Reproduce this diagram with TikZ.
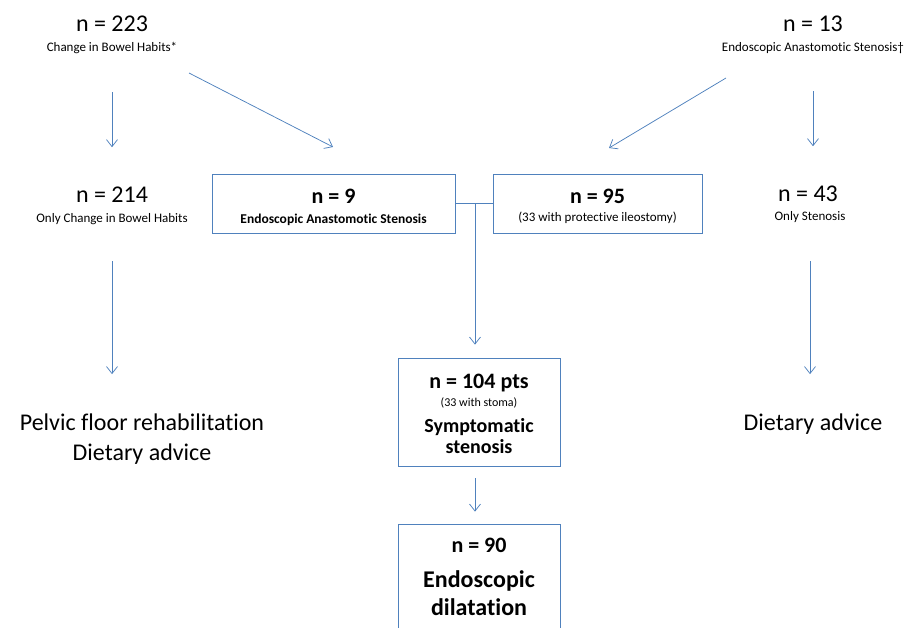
\documentclass[tikz,border=0pt]{standalone}
\usepackage{fontspec}
\setmainfont{Carlito}[Ligatures=NoCommon]
\usetikzlibrary{arrows.meta}
\definecolor{ln}{RGB}{79,129,189}
\tikzset{bx/.style = {draw=ln, line width=0.75pt, inner sep=0pt},
         lg/.style = {inner sep=0pt, anchor=base, font=\fontsize{24}{28}\selectfont},
         sm/.style = {inner sep=0pt, anchor=base, font=\fontsize{13}{15}\selectfont},
         bn/.style = {inner sep=0pt, anchor=base, font=\fontsize{22}{26}\selectfont\bfseries},
         bt/.style = {inner sep=0pt, anchor=base, font=\fontsize{20}{24}\selectfont\bfseries},
         ar/.style = {->, draw=ln, line width=0.75pt}}

\begin{document}
\begin{tikzpicture}[x=1pt, y=-1pt, >={Straight Barb[length=7pt,width=11pt]}]
    \useasboundingbox (0,0) rectangle (913,628);
    \clip (0,0) rectangle (913,628);
    % left column
    \node[lg] (n223) at (112,32) {n = 223};
    \node[sm] (cbh) at (112,52) {Change in Bowel Habits*};
    \node[lg] (n214) at (112,203) {n = 214};
    \node[sm] (ocbh) at (112,223) {Only Change in Bowel Habits};
    \node[lg] (pfr) at (142,430) {Pelvic floor rehabilitation};
    \node[lg] (da1) at (142,460) {Dietary advice};
    % right column
    \node[lg] (n13) at (813,32) {n = 13};
    \node[sm] (eas) at (813,52) {Endoscopic Anastomotic Stenosis†};
    \node[lg] (n43) at (808,202) {n = 43};
    \node[sm] (ost) at (810,221) {Only Stenosis};
    \node[lg] (da2) at (813,430) {Dietary advice};
    % boxes
    \node[bx, minimum width=243pt, minimum height=59pt] (b9) at (333.5,203.5) {};
    \node[bn] (b9a) at (333.5,204) {n = 9};
    \node[sm, font=\fontsize{13.5}{16}\selectfont\bfseries] (b9b) at (333.5,224) {Endoscopic Anastomotic Stenosis};
    \node[bx, minimum width=209pt, minimum height=59pt] (b95) at (597.5,203.5) {};
    \node[bn] (b95a) at (597.5,204) {n = 95};
    \node[sm] (b95b) at (597.5,222) {(33 with protective ileostomy)};
    \node[bx, minimum width=162pt, minimum height=108pt] (b104) at (479,412) {};
    \node[bn] (b104a) at (479,388) {n = 104 pts};
    \node[sm, font=\fontsize{12}{14}\selectfont] (b104b) at (479,406) {(33 with stoma)};
    \node[bt] (b104c) at (479,432) {Symptomatic};
    \node[bt] (b104d) at (479,453) {stenosis};
    \node[bx, minimum width=162pt, minimum height=140pt] (b90) at (479,594) {};
    \node[bn] (b90a) at (479,552) {n = 90};
    \node[bt, font=\fontsize{24}{28}\selectfont\bfseries] (b90b) at (479,587) {Endoscopic};
    \node[bt, font=\fontsize{24}{28}\selectfont\bfseries] (b90c) at (479,615) {dilatation};
    % connectors
    \coordinate (ls) at (189,73);
    \coordinate (le) at (333,147);
    \coordinate (rs) at (726,78);
    \coordinate (re) at (609,148);
    \coordinate (jn) at (475,203.5);
    \draw[ar, shorten <=38pt, shorten >=40pt] (cbh.south) -- (n214.north);
    \draw[ar] (ls) -- (le);
    \draw[ar] (rs) -- (re);
    \draw[ar, shorten <=37pt, shorten >=40pt] (eas.south) -- (eas.south |- n43.north);
    \draw[ar, shorten <=36pt, shorten >=39pt] (ocbh.south) -- (pfr.north -| ocbh.south);
    \draw[ar, shorten <=38pt, shorten >=39pt] (ost.south) -- (ost.south |- da2.north);
    \draw[draw=ln, line width=0.75pt] (b9.east) -- (b95.west);
    \draw[ar, shorten >=13pt] (jn) -- (jn |- b104.north);
    \draw[ar, shorten <=12pt, shorten >=12pt] (b104.south -| jn) -- (b90.north -| jn);
\end{tikzpicture}
\end{document}
